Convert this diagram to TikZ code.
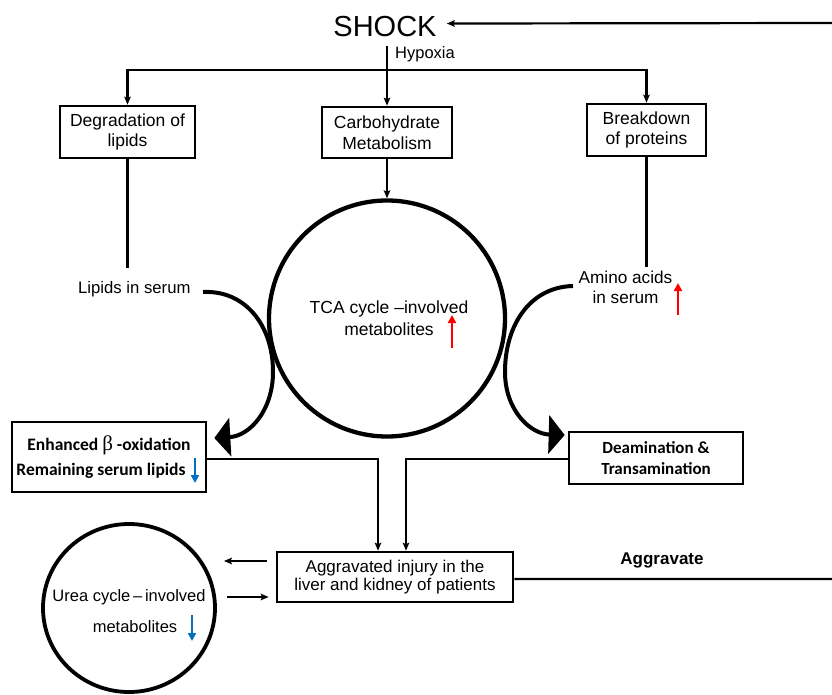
\documentclass[tikz,border=0pt]{standalone}
\usepackage{fontspec}
\setmainfont{Liberation Sans}
\newfontfamily\calibfont{Carlito}
\newfontfamily\betafont{Liberation Serif}
\usetikzlibrary{arrows.meta,shapes.geometric}
\definecolor{upred}{RGB}{255,0,0}
\definecolor{downblue}{RGB}{0,112,192}
\begin{document}
\begin{tikzpicture}[x=1pt,y=-1pt,
  box/.style={draw, line width=2.6pt, inner sep=0pt, align=center,
     font=\fontsize{17.5}{20.5}\selectfont},
  bbox/.style={draw, line width=2.6pt, inner sep=0pt, align=center,
     font=\calibfont\bfseries\fontsize{17.5}{25}\selectfont},
  lbl/.style={inner sep=0pt, font=\fontsize{17}{20}\selectfont},
  conn/.style={line width=2.2pt, -{Stealth[length=8pt,width=6.5pt,inset=1.5pt]}},
  plainline/.style={line width=2.2pt},
  bigarrow/.style={line width=4pt, -{Triangle[length=16pt,width=38pt]}},
  cyc/.style={draw, line width=4.3pt, inner sep=0pt},
  uparrow/.style={upred, line width=2.5pt, -{Triangle[length=8pt,width=8pt]}},
  downarrow/.style={downblue, line width=2.5pt, -{Triangle[length=8pt,width=8pt]}},
]
\useasboundingbox (0,0) rectangle (832,695);

% top
\node[lbl, font=\fontsize{29}{34}\selectfont, anchor=base] (shock) at (385,37) {SHOCK};
\node[lbl, font=\fontsize{16.5}{20}\selectfont, anchor=base west] (hypoxia) at (395,59) {Hypoxia};
\node[box, minimum width=135pt, minimum height=52pt] (deg) at (127.5,132) {Degradation of\\lipids};
\node[box, minimum width=130pt, minimum height=51pt] (carb) at (387,132.5) {Carbohydrate\\Metabolism};
\node[box, minimum width=119pt, minimum height=52pt] (brk) at (646.5,130) {Breakdown\\of proteins};

\coordinate (shockfoot) at (387,46);
\coordinate (split) at (387,70);
\draw[plainline] (shockfoot) -- (split);
\draw[conn] (split) -| (deg.north);
\draw[conn] (split) -| (brk.north);
\draw[conn] (split) -- (carb.north);

% TCA cycle
\node[cyc, circle, minimum size=236pt] (tca) at (387,318.5) {};
\node[lbl, align=center, font=\fontsize{17.5}{22}\selectfont] (tcatxt) at (389,318) {TCA cycle –involved\\metabolites};
\draw[uparrow] (452,348) -- (452,315);
\draw[conn] (carb.south) -- (tca.north);

% lipids
\node[lbl, font=\fontsize{16.7}{20}\selectfont, anchor=base west] (lipids) at (78,293) {Lipids in serum};
\coordinate (degfoot) at (127.5,268);
\draw[plainline] (deg.south) -- (degfoot);

% amino acids
\node[lbl, align=center, font=\fontsize{17.2}{20}\selectfont] (amino) at (625.5,287.5) {Amino acids\\in serum};
\coordinate (brkfoot) at (646.5,267);
\draw[plainline] (brk.south) -- (brkfoot);
\draw[uparrow] (678,315) -- (678,283);

% middle boxes
\node[bbox, minimum width=194pt, minimum height=70pt] (enh) at (109,457)
  {Enhanced {\betafont\mdseries\fontsize{21}{25}\selectfont β} -oxidation\\Remaining serum lipids\hspace*{16pt}};
\draw[downarrow] (195,458) -- (195,483);
\node[bbox, font=\calibfont\bfseries\fontsize{17}{21}\selectfont, minimum width=174pt, minimum height=52pt] (dea) at (656,458)
  {Deamination \&\\Transamination};

% curved arrows
\coordinate (lipstart) at (203,292);
\draw[bigarrow] (lipstart) .. controls (245,290) and (273,325) .. (273,372)
  .. controls (273,410) and (250,436) .. ([shift={(7pt,19pt)}]enh.east);
\coordinate (aminostart) at (573,286);
\draw[bigarrow] (aminostart) .. controls (530,287) and (505,325) .. (505,372)
  .. controls (505,410) and (530,434) .. ([shift={(-3pt,23pt)}]dea.west);

% aggravated injury
\node[box, font=\fontsize{17}{18}\selectfont, minimum width=236pt, minimum height=50pt] (agg) at (395,577)
  {Aggravated injury in the\\liver and kidney of patients};
\draw[conn] ([yshift=-2pt]enh.east) -| ([xshift=-17pt]agg.north);
\draw[conn] ([yshift=-1pt]dea.west) -| ([xshift=11pt]agg.north);

% urea cycle
\node[cyc, ellipse, line width=3.8pt, minimum width=172pt, minimum height=168pt] (urea) at (129,608) {};
\node[lbl, align=center, font=\fontsize{16.5}{31}\selectfont] (ureatxt) at (129,611)
  {Urea cycle\,–\,involved\\\hspace*{12pt}metabolites};
\draw[downarrow] (192,615) -- (192,641);
\draw[conn] ([shift={(-9pt,16pt)}]agg.west) -- ([shift={(7pt,47pt)}]urea.east);
\draw[conn] ([shift={(10pt,11pt)}]urea.east) -- ([shift={(-7pt,-20pt)}]agg.west);

% feedback
\node[lbl, font=\bfseries\fontsize{17}{20}\selectfont, anchor=base] (aggr) at (662,564) {Aggravate};
\coordinate (fbbottom) at (834,579);
\coordinate (fbtop) at (834,23);
\draw[conn] ([yshift=-2pt]agg.east) -- (fbbottom) -- (fbtop) -- ([shift={(10pt,3.5pt)}]shock.east);
\end{tikzpicture}
\end{document}
